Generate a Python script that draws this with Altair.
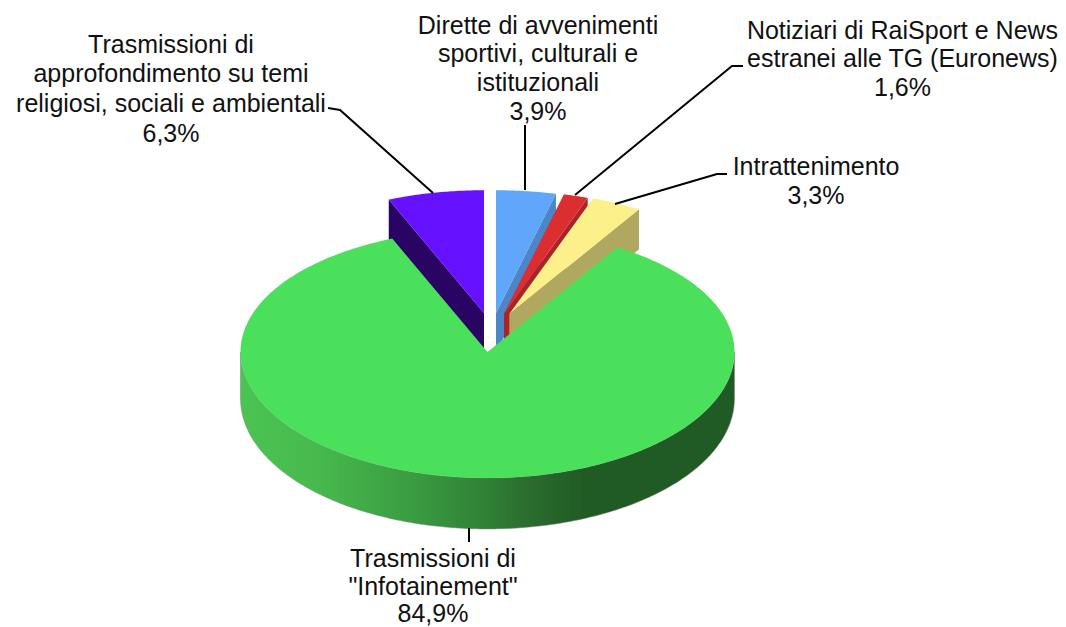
import math
import altair as alt
import pandas as pd

# Slices, clockwise from twelve o'clock
names = ["Dirette", "Notiziari", "Intrattenimento", "Infotainement", "Approfondimento"]
shares = [3.9, 1.6, 3.3, 84.9, 6.3]
top_colors = ["#60a6fb", "#dc2e30", "#fbf08a", "#4be05b", "#6510ff"]
side_colors = ["#4a86c8", "#ab2326", "#b0a860", None, "#2a0463"]

# Where each slice's tip sits on the page (exploded pie), in page pixels
tip_x = [496, 504, 509.3, 487.5, 484]
tip_y = [313, 313.5, 314, 352, 313]

# Label lines
label_text = [
    "Trasmissioni di", "approfondimento su temi", "religiosi, sociali e ambientali", "6,3%",
    "Dirette di avvenimenti", "sportivi, culturali e", "istituzionali", "3,9%",
    "Notiziari di RaiSport e News", "estranei alle TG (Euronews)", "1,6%",
    "Intrattenimento", "3,3%",
    "Trasmissioni di", "\"Infotainement\"", "84,9%",
]
label_x = [171, 171, 171, 171, 538, 538, 538, 538, 902.5, 902.5, 902.5, 816, 816, 433, 433, 433]
label_y = [45, 74, 104, 134, 26, 54, 83, 112, 31, 59, 88, 167, 196, 559, 587, 614]

# Leader lines
leaders = {
    "a": [(328, 108), (340, 110), (433, 193)],
    "b": [(525, 125), (525, 190)],
    "c": [(743, 66), (732, 66), (575, 195)],
    "d": [(727, 174), (717, 174), (615, 204)],
    "e": [(469, 528), (469, 542)],
}

MARGIN = 8
W, H = 1050, 619
RX = 247


def rim(tx, ty, a):
    u, v = math.sin(a), -math.cos(a)
    return tx + RX * u, ty + RX * v * (0.5035 + 0.0065 * v)


def thick(a):
    return 45 + 6 * math.sqrt(max(-math.cos(a), 0))


def arc_angles(a0, a1, step=0.01):
    n = max(2, int((a1 - a0) / step))
    return [a0 + (a1 - a0) * i / n for i in range(n + 1)]


def shape(points, fill, **stroke):
    ring = [[x - MARGIN, y - MARGIN] for x, y in points]
    ring.append(ring[0])
    feature = {"type": "Feature", "properties": {},
               "geometry": {"type": "Polygon", "coordinates": [ring]}}
    style = stroke or {"stroke": "transparent", "strokeWidth": 0}
    return alt.Chart(alt.Data(values=[feature])).mark_geoshape(
        fill=fill, **style
    ).project(type="identity", scale=1, translate=[0, 0])


green_gradient = alt.Gradient(
    gradient="linear", x1=0, x2=1, y1=0, y2=0,
    stops=[
        alt.GradientStop(offset=0.0, color="#4ac452"),
        alt.GradientStop(offset=0.15, color="#47ba4e"),
        alt.GradientStop(offset=0.35, color="#3a9c41"),
        alt.GradientStop(offset=0.5, color="#2f8035"),
        alt.GradientStop(offset=0.58, color="#2a6d2e"),
        alt.GradientStop(offset=0.7, color="#205a24"),
        alt.GradientStop(offset=1.0, color="#205a24"),
    ],
)

layers = []
starts = []
acc = 0.0
for s in shares:
    starts.append(acc)
    acc += s
angles = [(st / 100 * 2 * math.pi, (st + s) / 100 * 2 * math.pi) for st, s in zip(starts, shares)]

# back slices first, left to right, green last
for i in [4, 0, 1, 2]:
    a0, a1 = angles[i]
    tx, ty = tip_x[i], tip_y[i]
    depth = 40
    end_a = a0 if i == 4 else a1  # exposed cut face
    ex, ey = rim(tx, ty, end_a)
    layers.append(shape([(tx, ty), (ex, ey), (ex, ey + depth), (tx, ty + depth)], side_colors[i]))
    layers.append(shape([(tx, ty)] + [rim(tx, ty, a) for a in arc_angles(a0, a1)], top_colors[i]))

a0, a1 = angles[3]
tx, ty = tip_x[3], tip_y[3]
front = arc_angles(math.pi / 2, 3 * math.pi / 2)
upper = [rim(tx, ty, a) for a in front]
lower = [(rim(tx, ty, a)[0], rim(tx, ty, a)[1] + thick(a)) for a in reversed(front)]
layers.append(shape(upper + lower, green_gradient, stroke="#808080", strokeWidth=1, strokeOpacity=0.5))
layers.append(shape([(tx, ty)] + [rim(tx, ty, a) for a in arc_angles(a0, a1)], top_colors[3]))

x_scale = alt.Scale(domain=[0, W], nice=False, zero=False)
y_scale = alt.Scale(domain=[H, 0], nice=False, zero=False)

rows = []
for key, pts in leaders.items():
    for order, (x, y) in enumerate(pts):
        rows.append({"k": key, "o": order, "x": x - MARGIN, "y": y - MARGIN})
leader_layer = alt.Chart(pd.DataFrame(rows)).mark_line(color="#000000", strokeWidth=2).encode(
    x=alt.X("x:Q", scale=x_scale, axis=None),
    y=alt.Y("y:Q", scale=y_scale, axis=None),
    detail="k:N",
    order="o:O",
)

labels = pd.DataFrame({
    "t": label_text,
    "x": [v - MARGIN for v in label_x],
    "y": [v - MARGIN for v in label_y],
    "i": list(range(len(label_text))),
})
text_layer = alt.Chart(labels).mark_text(
    font="Liberation Sans", fontSize=25, color="#111111", align="center", baseline="middle"
).encode(
    x=alt.X("x:Q", scale=x_scale, axis=None),
    y=alt.Y("y:Q", scale=y_scale, axis=None),
    text="t:N",
    detail="i:O",
)

chart = alt.layer(*layers, leader_layer, text_layer).properties(
    width=W, height=H, padding=0, background="#ffffff",
    autosize=alt.AutoSizeParams(type="none"),
).configure_view(stroke=None)

chart.save("out.html", embed_options={"renderer": "svg", "actions": False})
